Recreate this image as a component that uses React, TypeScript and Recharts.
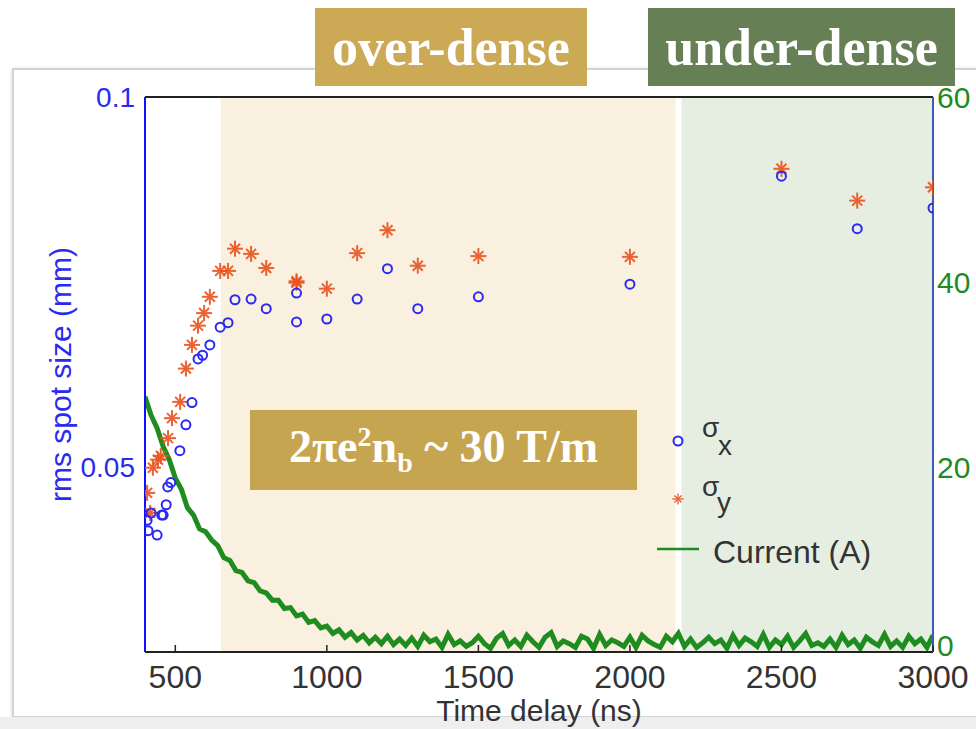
import React from "react";
import {
  ComposedChart,
  XAxis,
  YAxis,
  Scatter,
  Line,
  ReferenceArea,
  ReferenceLine,
} from "recharts";

// axis ticks
const timeTicks: number[] = [500, 1000, 1500, 2000, 2500, 3000];
const spotTicks: number[] = [0.05, 0.1];
const currentTicks: number[] = [0, 20, 40, 60];

// shaded regimes (ns)
const overDenseRange: number[] = [650, 2150];
const underDenseRange: number[] = [2170, 3000];

// sigma_x (blue circles)
const sigmaXTime: number[] = [
  407, 410, 420, 440, 455, 460, 470, 475, 485, 515, 535, 555, 575, 590, 614,
  648, 674, 697, 750, 800, 900, 900, 1000, 1100, 1200, 1300, 1500, 2000,
  2500, 2750, 3000,
];
const sigmaXValue: number[] = [
  0.0428, 0.0414, 0.0438, 0.0408, 0.0435, 0.0435, 0.0449, 0.0473, 0.0479,
  0.0522, 0.0557, 0.0587, 0.0646, 0.0651, 0.0665, 0.0689, 0.0695, 0.0726,
  0.0727, 0.0714, 0.0735, 0.0696, 0.07, 0.0727, 0.0768, 0.0714, 0.073,
  0.0747, 0.0893, 0.0822, 0.085,
];

// sigma_y (red stars)
const sigmaYTime: number[] = [
  407, 417, 426, 443, 452, 476, 489, 516, 535, 555, 575, 595, 614, 648, 674,
  697, 750, 800, 900, 900, 1000, 1100, 1200, 1300, 1500, 2000, 2500, 2750,
  3000,
];
const sigmaYValue: number[] = [
  0.0465, 0.0438, 0.0499, 0.051, 0.0515, 0.0539, 0.0566, 0.0588, 0.0633,
  0.0665, 0.0691, 0.0708, 0.073, 0.0765, 0.0765, 0.0795, 0.0788, 0.0769,
  0.0751, 0.0749, 0.0741, 0.0789, 0.082, 0.0772, 0.0785, 0.0784, 0.0903,
  0.086, 0.0878,
];

// current trace (A), sampled every 20 ns from 400 ns
const currentStart = 400;
const currentStep = 20;
const currentValues: number[] = [
  27.6, 25.6, 24.2, 22.2, 20.8, 18.8, 17.6, 15.6, 14.8, 13.3,
  13.0, 12.1, 11.5, 10.2, 9.9, 8.8, 8.6, 7.7, 7.5, 6.6,
  6.4, 5.6, 5.6, 4.7, 4.8, 3.9, 4.1, 3.2, 3.4, 2.6,
  2.8, 2.0, 2.4, 1.6, 2.1, 1.3, 1.8, 1.0, 1.6, 0.9,
  1.7, 0.8, 1.4, 0.7, 1.5,
  0.6, 1.8, 1.1, 1.4, 0.5, 1.9, 0.8, 1.2, 0.6, 1.0,
  1.7, 0.9, 0.4, 1.5, 2.0, 0.7, 1.3, 0.6, 1.8, 1.1,
  0.5, 1.6, 2.1, 0.6, 1.2, 0.9, 0.5, 1.7, 1.4, 0.4,
  1.9, 0.7, 1.3, 1.0, 0.6, 1.6, 0.5, 1.8, 1.2, 0.8,
  0.5, 1.7, 1.1, 2.0, 0.6, 1.4, 0.5, 1.0, 1.6, 0.9,
  1.3, 0.4, 1.8, 0.7, 1.5, 1.1, 0.6, 1.9, 0.5, 1.3,
  0.8, 1.7, 0.5, 1.2, 2.0, 0.7, 1.0, 0.6, 1.4, 0.5,
  1.8, 0.8, 1.3, 0.4, 1.6, 1.1, 0.7, 1.9, 0.6, 1.2,
  0.5, 1.7, 0.9, 1.4, 0.5, 1.8,
];

const sigmaXData = sigmaXTime.map((t, i) => ({ t, v: sigmaXValue[i] }));
const sigmaYData = sigmaYTime.map((t, i) => ({ t, v: sigmaYValue[i] }));
const currentData = currentValues.map((a, i) => ({ t: currentStart + i * currentStep, a }));

const SANS = "'Liberation Sans', Arial, sans-serif";
const SERIF = "'Liberation Serif', 'Times New Roman', serif";
const BLUE = "#2a2af0";
const RED = "#e8531f";
const GREEN = "#1f8c1f";

const Circle = (props: any) => {
  const { cx, cy } = props;
  if (cx == null || cy == null) return null;
  return <circle cx={cx} cy={cy} r={4.5} fill="none" stroke={BLUE} strokeWidth={2} />;
};

const Star = (props: any) => {
  const { cx, cy } = props;
  if (cx == null || cy == null) return null;
  const a = 8;
  const b = 5;
  return (
    <g stroke={RED} strokeWidth={2} opacity={0.9}>
      <line x1={cx - a} x2={cx + a} y1={cy} y2={cy} />
      <line x1={cx} x2={cx} y1={cy - a} y2={cy + a} />
      <line x1={cx - b} x2={cx + b} y1={cy - b} y2={cy + b} />
      <line x1={cx - b} x2={cx + b} y1={cy + b} y2={cy - b} />
    </g>
  );
};

const XTick = (props: any) => {
  const { x, y, payload } = props;
  return (
    <g>
      <line x1={x} x2={x} y1={y - 13} y2={y - 20} stroke="#222" strokeWidth={1.5} />
      <text x={x} y={y} dy="0.71em" textAnchor="middle" fill="#333" fontSize={32} fontFamily={SANS}>
        {payload.value}
      </text>
    </g>
  );
};

// right axis labels; the bottom "0" is lifted a little so it clears "3000"
const RightTick = (props: any) => {
  const { x, y, payload } = props;
  const lift = payload.value === 0 ? 7 : 0;
  return (
    <text x={x} y={y - lift} dy="0.36em" textAnchor="start" fill={GREEN} fontSize={30} fontFamily={SANS}>
      {payload.value}
    </text>
  );
};

const App: React.FC = () => {
  return (
    <div style={{ position: "absolute", left: 0, top: 0, width: 976, height: 729, background: "#fff", overflow: "hidden" }}>
      <div
        style={{
          position: "absolute",
          left: 12,
          top: 68,
          width: 990,
          height: 646,
          border: "2px solid #d4d4d4",
          boxShadow: "0 1px 4px rgba(0,0,0,0.15)",
          background: "#fff",
        }}
      />
      <div style={{ position: "absolute", left: 0, top: 717, width: 976, height: 12, background: "#eeeeee" }} />

      <div style={{ position: "absolute", left: 0, top: 0 }}>
        <ComposedChart width={976} height={729} margin={{ top: 97, right: 0, bottom: 0, left: 45 }}>
          <ReferenceArea
            x1={overDenseRange[0]}
            x2={overDenseRange[1]}
            yAxisId="left"
            fill="#faf0df"
            fillOpacity={1}
            stroke="none"
          />
          <ReferenceArea
            x1={underDenseRange[0]}
            x2={underDenseRange[1]}
            yAxisId="left"
            fill="#e6eee1"
            fillOpacity={1}
            stroke="none"
          />
          <XAxis
            type="number"
            dataKey="t"
            domain={[400, 3000]}
            ticks={timeTicks}
            allowDataOverflow
            height={77}
            tickLine={false}
            tickSize={0}
            tickMargin={13}
            tick={<XTick />}
            axisLine={{ stroke: "#222", strokeWidth: 2 }}
            label={{
              value: "Time delay (ns)",
              position: "insideBottom",
              offset: 8,
              fill: "#333",
              fontSize: 30,
              fontFamily: SANS,
            }}
          />
          <YAxis
            yAxisId="left"
            type="number"
            domain={[0.025, 0.1]}
            ticks={spotTicks}
            allowDataOverflow
            width={100}
            tickLine={false}
            tickSize={0}
            tickMargin={10}
            tick={{ fill: BLUE, fontSize: 28, fontFamily: SANS }}
            axisLine={{ stroke: "#1010ff", strokeWidth: 2 }}
            label={{
              value: "rms spot size (mm)",
              angle: -90,
              position: "insideLeft",
              offset: 15,
              fill: BLUE,
              fontSize: 30,
              fontFamily: SANS,
              style: { textAnchor: "middle" },
            }}
          />
          <YAxis
            yAxisId="right"
            orientation="right"
            type="number"
            domain={[0, 60]}
            ticks={currentTicks}
            allowDataOverflow
            width={43}
            tickLine={false}
            tickSize={0}
            tickMargin={4}
            tick={<RightTick />}
            axisLine={{ stroke: "#3a5cb5", strokeWidth: 2 }}
          />
          <ReferenceLine y={0.1} yAxisId="left" stroke="#222" strokeWidth={2} />
          <Line
            yAxisId="right"
            data={currentData}
            dataKey="a"
            type="linear"
            stroke={GREEN}
            strokeWidth={5}
            strokeLinejoin="miter"
            dot={false}
            isAnimationActive={false}
          />
          <Scatter yAxisId="left" data={sigmaYData} dataKey="v" shape={<Star />} isAnimationActive={false} />
          <Scatter yAxisId="left" data={sigmaXData} dataKey="v" shape={<Circle />} isAnimationActive={false} />
        </ComposedChart>
      </div>

      {/* regime tags */}
      <div
        style={{
          position: "absolute",
          left: 315,
          top: 8,
          width: 272,
          height: 78,
          background: "#cba955",
          color: "#fff",
          fontFamily: SERIF,
          fontWeight: 700,
          fontSize: 52,
          display: "flex",
          alignItems: "center",
          justifyContent: "center",
        }}
      >
        over-dense
      </div>
      <div
        style={{
          position: "absolute",
          left: 648,
          top: 8,
          width: 307,
          height: 78,
          background: "#677f55",
          color: "#fff",
          fontFamily: SERIF,
          fontWeight: 700,
          fontSize: 52,
          display: "flex",
          alignItems: "center",
          justifyContent: "center",
        }}
      >
        under-dense
      </div>

      {/* focusing gradient box */}
      <div
        style={{
          position: "absolute",
          left: 250,
          top: 410,
          width: 387,
          height: 80,
          background: "#c6a550",
          color: "#fff",
          fontFamily: SERIF,
          fontWeight: 700,
          fontSize: 46,
          display: "flex",
          alignItems: "center",
          justifyContent: "center",
          whiteSpace: "nowrap",
        }}
      >
        <span>
          2πe<sup style={{ fontSize: 28 }}>2</sup>n<sub style={{ fontSize: 28 }}>b</sub> ~ 30 T/m
        </span>
      </div>

      {/* legend */}
      <svg style={{ position: "absolute", left: 0, top: 0 }} width={976} height={729} pointerEvents="none">
        <Circle cx={678} cy={441} />
        <g transform="translate(678,499) scale(0.7) translate(-678,-499)">
          <Star cx={678} cy={499} />
        </g>
        <line x1={657} x2={699} y1={549} y2={549} stroke={GREEN} strokeWidth={2.5} />
        <text x={702} y={437} fill="#333" fontSize={28} fontFamily={SANS}>σ</text>
        <text x={718} y={455} fill="#333" fontSize={28} fontFamily={SANS}>x</text>
        <text x={702} y={496} fill="#333" fontSize={28} fontFamily={SANS}>σ</text>
        <text x={717} y={512} fill="#333" fontSize={28} fontFamily={SANS}>y</text>
        <text x={713} y={563} fill="#333" fontSize={32} fontFamily={SANS}>Current (A)</text>
      </svg>
    </div>
  );
};

export default App;
